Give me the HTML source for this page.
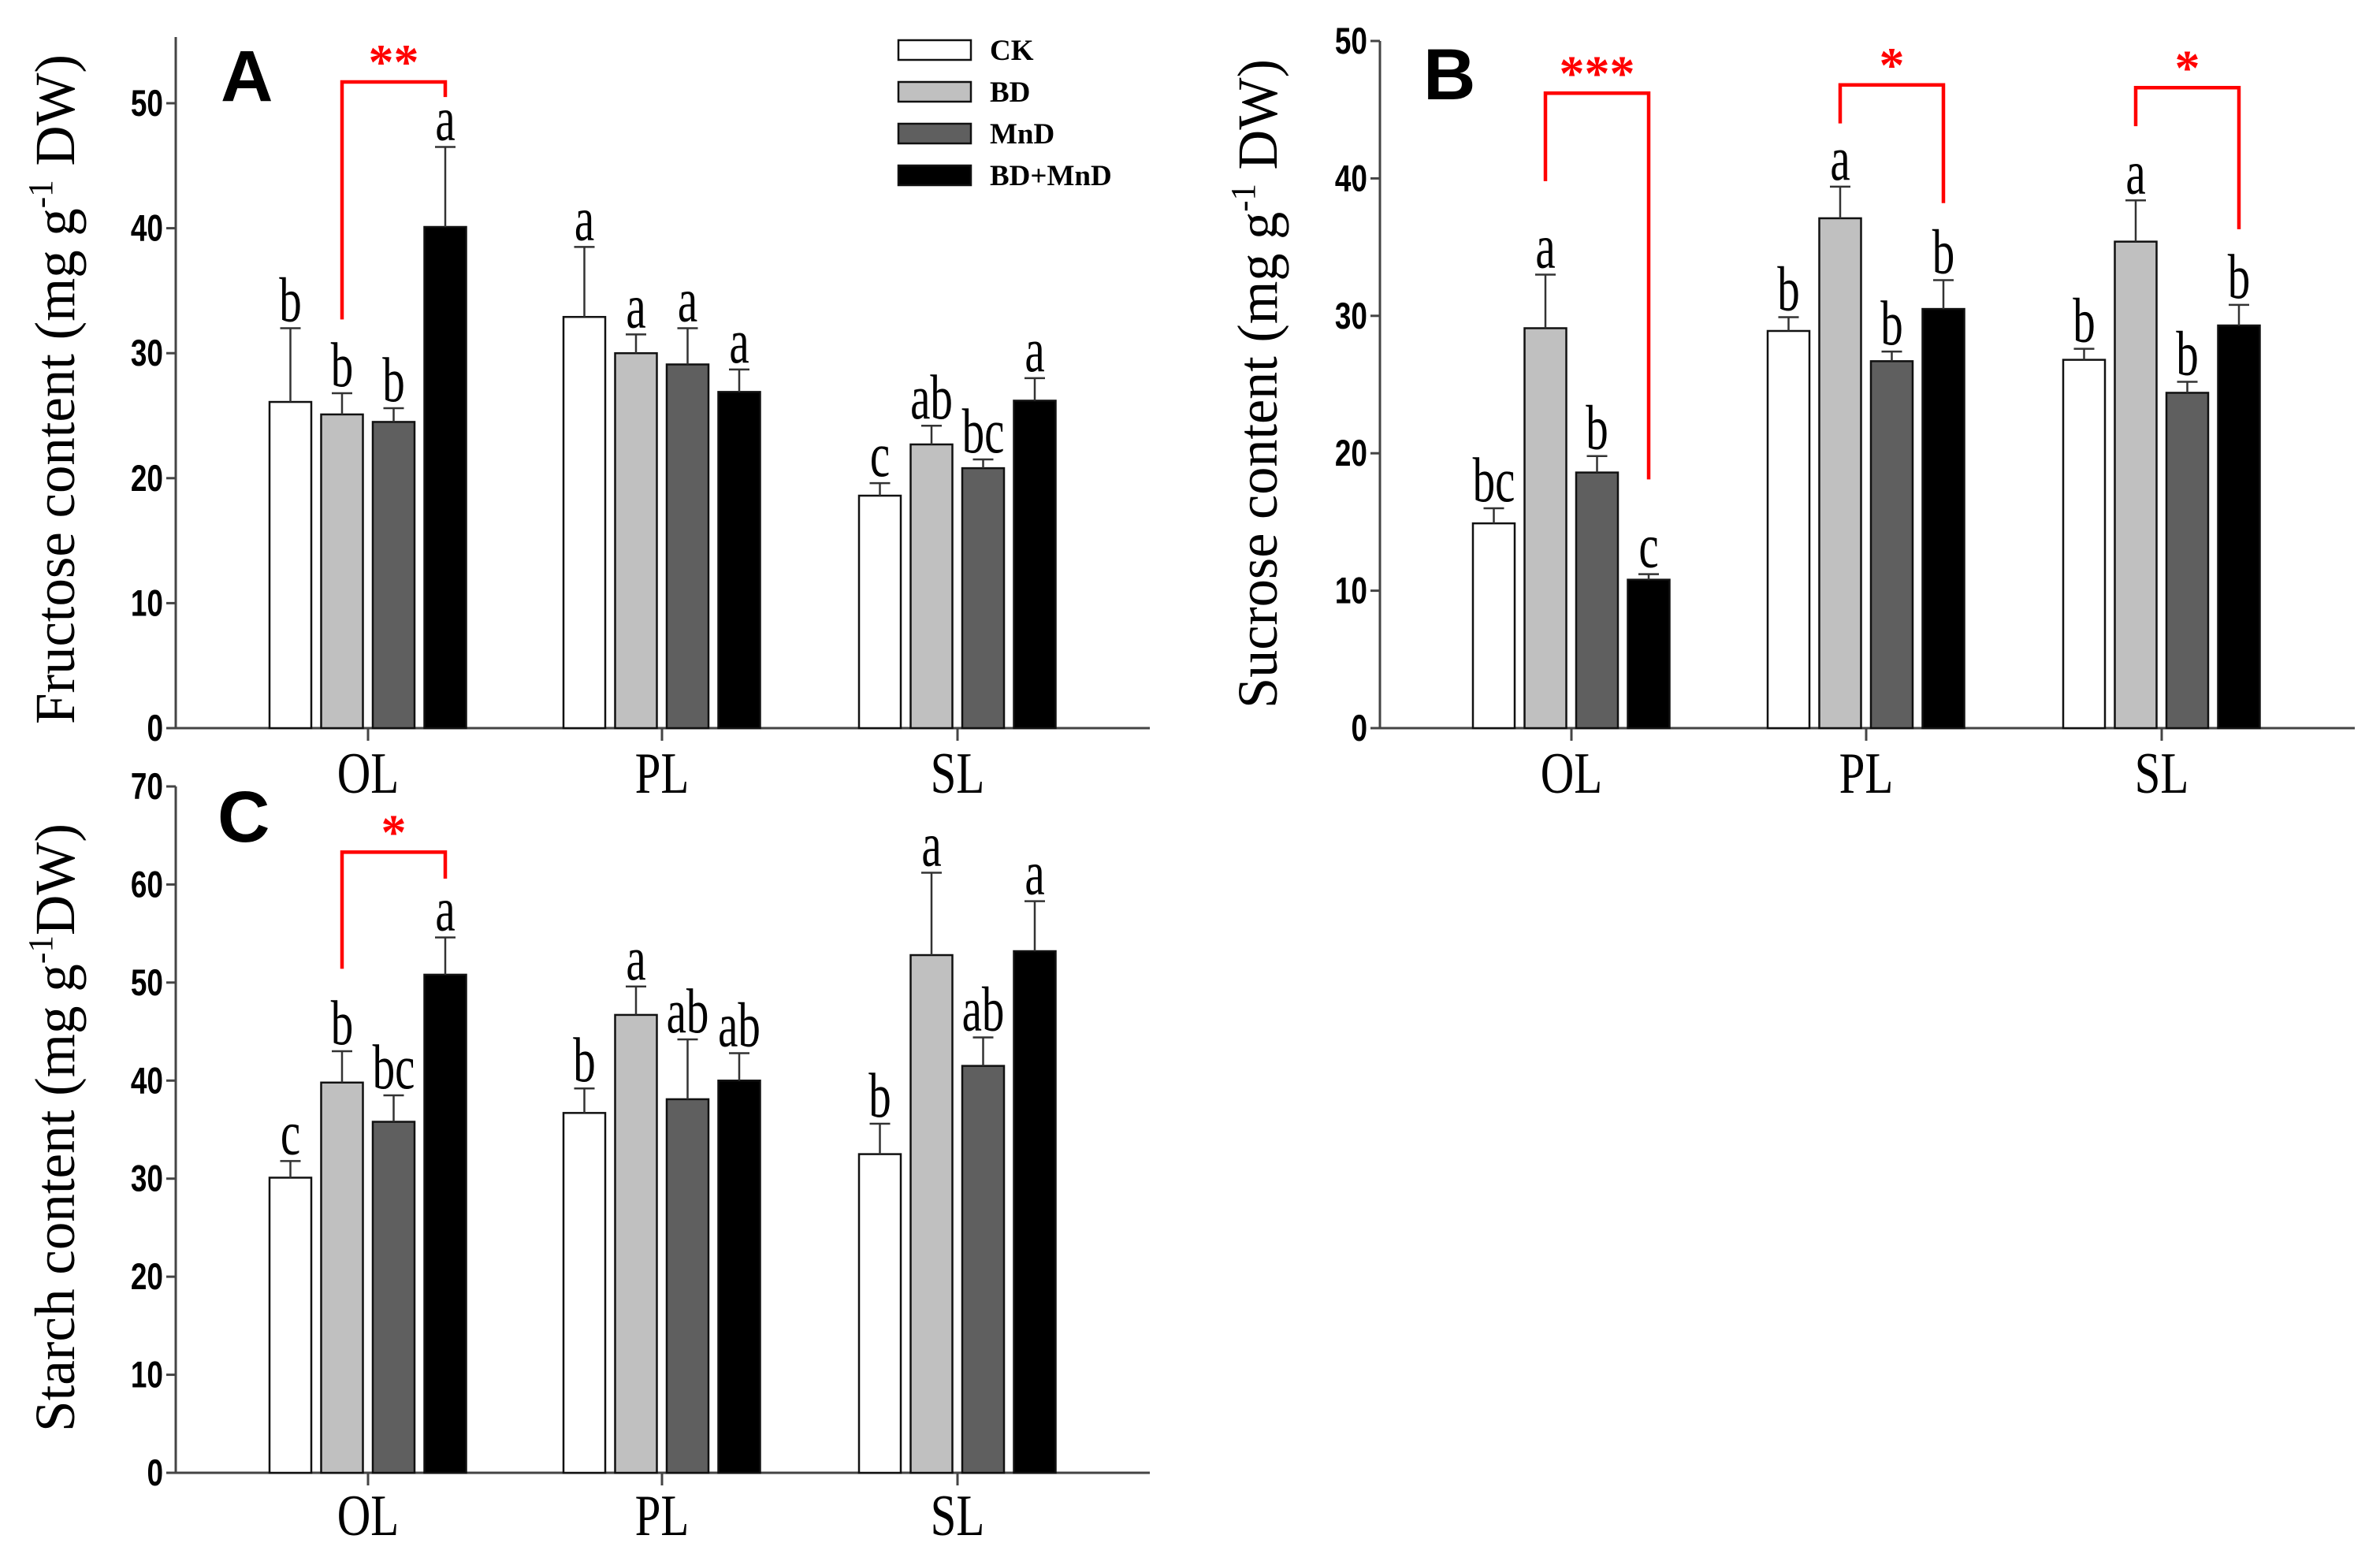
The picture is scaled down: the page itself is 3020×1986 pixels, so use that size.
<!DOCTYPE html>
<html><head><meta charset="utf-8"><style>
html,body{margin:0;padding:0;background:#fff;}
svg{display:block;}
</style></head><body>
<svg id="fig" width="3020" height="1986" viewBox="0 0 3020 1986" xmlns="http://www.w3.org/2000/svg"></svg>
<script>
const groups = ["OL","PL","SL"];
const treatments = ["CK","BD","MnD","BD+MnD"];
// Fructose (A)
const fruMean = [[26.1,25.1,24.5,40.1],[32.9,30.0,29.1,26.9],[18.6,22.7,20.8,26.2]];
const fruErr  = [[5.9,1.7,1.1,6.4],[5.6,1.5,2.9,1.8],[1.0,1.5,0.7,1.8]];
const fruLetters = [["b","b","b","a"],["a","a","a","a"],["c","ab","bc","a"]];
const fruTicks = [0,10,20,30,40,50];
// Sucrose (B)
const sucMean = [[14.9,29.1,18.6,10.8],[28.9,37.1,26.7,30.5],[26.8,35.4,24.4,29.3]];
const sucErr  = [[1.1,3.9,1.2,0.4],[1.0,2.3,0.7,2.1],[0.8,3.0,0.8,1.5]];
const sucLetters = [["bc","a","b","c"],["b","a","b","b"],["b","a","b","b"]];
const sucTicks = [0,10,20,30,40,50];
// Starch (C)
const staMean = [[30.1,39.8,35.8,50.8],[36.7,46.7,38.1,40.0],[32.5,52.8,41.5,53.2]];
const staErr  = [[1.7,3.2,2.7,3.8],[2.5,2.9,6.1,2.8],[3.1,8.4,2.9,5.1]];
const staLetters = [["c","b","bc","a"],["b","a","ab","ab"],["b","a","ab","a"]];
const staTicks = [0,10,20,30,40,50,60,70];
// significance brackets: [group, fromBar, toBar, topValue, leftBottom, rightBottom, label]
const fruSig = [[0,1,3,51.7,32.7,50.5,"**"]];
const sucSig = [[0,1,3,46.2,39.8,18.1,"***"],[1,1,3,46.8,44.0,38.2,"*"],[2,1,3,46.6,43.8,36.3,"*"]];
const staSig = [[0,1,3,63.3,51.4,60.6,"*"]];

const fills = ["#ffffff","#c0c0c0","#5f5f5f","#000000"];
const NS = "http://www.w3.org/2000/svg";
const svg = document.getElementById("fig");
function mk(tag, attrs, parent, text){
  const e = document.createElementNS(NS, tag);
  for (const k in attrs) e.setAttribute(k, attrs[k]);
  if (text !== undefined) e.textContent = text;
  (parent||svg).appendChild(e);
  return e;
}

function panel(p){
  const g = mk("g", {});
  
  
  const y = v => p.y0 - (v / p.vmax) * (p.y0 - p.yTop);
  const barX = (gi, bi) => p.centers[gi] - 125 + bi * 65.5;
  const bw = 53;
  const ya = mk("line", {x1:p.ax, y1:y(p.axisTop), x2:p.ax, y2:p.y0, stroke:"#444", "stroke-width":3}, g);
   
  const xa = mk("line", {x1:p.ax, y1:p.y0, x2:p.xEnd, y2:p.y0, stroke:"#444", "stroke-width":3}, g);
   
  p.ticks.forEach(t => {
    mk("line", {x1:p.ax-12, y1:y(t), x2:p.ax, y2:y(t), stroke:"#444", "stroke-width":3}, g);
    const tl = mk("text", {x:0, y:0, "text-anchor":"end", "font-family":"Liberation Sans, sans-serif", "font-weight":"bold", "font-size":42, transform:`translate(${p.ax-16},${y(t)+16}) scale(0.88,1.12)`}, g, String(t));
     
  });
  groups.forEach((gn, gi) => {
    mk("line", {x1:p.centers[gi], y1:p.y0, x2:p.centers[gi], y2:p.y0+16, stroke:"#444", "stroke-width":3}, g);
    const xl = mk("text", {x:0, y:0, "text-anchor":"middle", "font-family":"Liberation Serif, serif", "font-size":62, transform:`translate(${p.centers[gi]},${p.labelY}) scale(0.95,1.2)`}, g, gn);
     
    treatments.forEach((tn, bi) => {
      const v = p.mean[gi][bi], e = p.err[gi][bi];
      const x = barX(gi, bi);
      const r = mk("rect", {x:x, y:y(v), width:bw, height:p.y0 - y(v), fill:fills[bi], stroke:"#111", "stroke-width":2.5}, g);
      
      
      const cx = x + bw/2;
      const eb = mk("path", {d:`M${cx},${y(v)} V${y(v+e)} M${cx-13},${y(v+e)} H${cx+13}`, stroke:"#333", "stroke-width":2.5, fill:"none"}, g);
       
      const lt = mk("text", {x:0, y:0, "text-anchor":"middle", "font-family":"Liberation Serif, serif", "font-size":62, transform:`translate(${cx},${y(v+e)-9}) scale(0.92,1.3)`}, g, p.letters[gi][bi]);
       
    });
  });
  p.sig.forEach(s => {
    const x1 = barX(s[0], s[1]) + bw/2, x2 = barX(s[0], s[2]) + bw/2;
    const br = mk("path", {d:`M${x1},${y(s[4])} V${y(s[3])} H${x2} V${y(s[5])}`, stroke:"#ff0000", "stroke-width":4.5, fill:"none"}, g);
     
    const st = mk("text", {x:(x1+x2)/2, y:y(s[3])-4, "text-anchor":"middle", "font-family":"Liberation Serif, serif", "font-weight":"bold", "font-size":64, fill:"#ff0000"}, g, s[6]);
     
  });
  const pl = mk("text", {x:p.letterX, y:p.letterY, "font-family":"Liberation Sans, sans-serif", "font-weight":"bold", "font-size":92}, g, p.letter);
   
  const yt = mk("text", {x:0, y:0, "text-anchor":"middle", "font-family":"Liberation Serif, serif", "font-size":72, textLength:p.titleLen, lengthAdjust:"spacingAndGlyphs", transform:`translate(${p.titleX},${p.titleY}) rotate(-90)`}, g);
   
  mk("tspan", {}, yt, p.title1);
  mk("tspan", {dy:-28, "font-size":44}, yt, "-1");
  mk("tspan", {dy:28}, yt, p.title2);
}

panel({name:"panel-a-fructose", ax:223, xEnd:1459, y0:924, yTop:131, vmax:50, axisTop:55.3, centers:[467,840,1215], labelY:1006,
  mean:fruMean, err:fruErr, letters:fruLetters, ticks:fruTicks, sig:fruSig, letter:"A", letterX:280, letterY:128,
  title1:"Fructose content (mg g", title2:" DW)", titleX:94, titleY:494, titleLen:850});
panel({name:"panel-b-sucrose", ax:1751, xEnd:2988, y0:924, yTop:52, vmax:50, axisTop:50, centers:[1994,2368,2743], labelY:1006,
  mean:sucMean, err:sucErr, letters:sucLetters, ticks:sucTicks, sig:sucSig, letter:"B", letterX:1806, letterY:126,
  title1:"Sucrose content (mg g", title2:" DW)", titleX:1620, titleY:487, titleLen:824});
panel({name:"panel-c-starch", ax:223, xEnd:1459, y0:1869, yTop:998, vmax:70, axisTop:70, centers:[467,840,1215], labelY:1948,
  mean:staMean, err:staErr, letters:staLetters, ticks:staTicks, sig:staSig, letter:"C", letterX:276, letterY:1068,
  title1:"Starch content (mg g", title2:"DW)", titleX:94, titleY:1431, titleLen:772});

const lg = mk("g", {});


const legY = [51,104,157,210];
treatments.forEach((tn, i) => {
  const r = mk("rect", {x:1140, y:legY[i], width:92, height:25, fill:fills[i], stroke:"#111", "stroke-width":2.5}, lg);
   
  const t = mk("text", {x:1256, y:legY[i]+25, "font-family":"Liberation Serif, serif", "font-weight":"bold", "font-size":37}, lg, tn);
   
});
</script>
</body></html>
